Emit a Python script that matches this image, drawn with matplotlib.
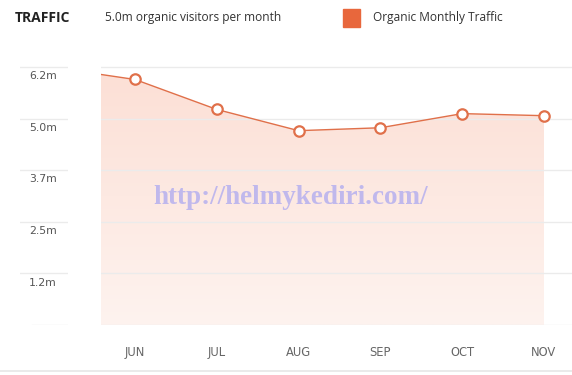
import numpy as np
import matplotlib.pyplot as plt
from matplotlib.patches import Polygon, Rectangle
from matplotlib.colors import LinearSegmentedColormap

# data ------------------------------------------------------------
months = ['MAY', 'JUN', 'JUL', 'AUG', 'SEP', 'OCT', 'NOV']
traffic = [6.19, 5.90, 5.18, 4.67, 4.74, 5.08, 5.03]   # millions
ytick_vals = [1.24, 2.48, 3.72, 4.96, 6.2]
ytick_labels = ['1.2m', '2.5m', '3.7m', '5.0m', '6.2m']

W, H = 572, 375
line_col = '#e0704a'
grid_col = '#ebebeb'

fig = plt.figure(figsize=(W / 100, H / 100), dpi=100)


def frac(x0, y0, x1, y1):
    # pixel box (top-left origin) -> figure fraction rect
    return [x0 / W, 1 - y1 / H, (x1 - x0) / W, (y1 - y0) / H]


ymax = (325 - 55) / 51.6 * 1.24
x = np.arange(len(months)) - 1  # JUN at 0

ax = fig.add_axes(frac(101, 55, 572, 325))
ax.set_xlim((101 - 135) / 81.8, (572 - 135) / 81.8)
ax.set_ylim(0, ymax)
for s in ax.spines.values():
    s.set_visible(False)

for v in [0] + ytick_vals:
    ax.axhline(v, color=grid_col, lw=1, zorder=1)

# gradient fill under the line
verts = [(x[0], 0)] + list(zip(x, traffic)) + [(x[-1], 0)]
poly = Polygon(verts, closed=True, facecolor='none', edgecolor='none')
ax.add_patch(poly)
cmap = LinearSegmentedColormap.from_list('fill', ['#fef3ef', '#fcdfd5'])
grad = np.linspace(0, 1, 256).reshape(-1, 1)
im = ax.imshow(grad, cmap=cmap, aspect='auto', origin='lower',
               extent=[x[0], x[-1], 0, max(traffic)], zorder=0)
im.set_clip_path(poly)

ax.plot(x, traffic, color=line_col, lw=1, zorder=3)
ax.plot(x[1:], traffic[1:], 'o', ms=7.5, mfc='white', mec=line_col, mew=1.6, zorder=4)

ax.set_xticks(x[1:])
ax.set_xticklabels(months[1:], fontsize=8.3, color='#666666', family='DejaVu Sans')
ax.tick_params(axis='x', length=0, pad=15)
ax.set_yticks([])

# left label column ---------------------------------------------
lax = fig.add_axes(frac(20, 55, 68, 325))
lax.set_xlim(0, 1)
lax.set_ylim(0, ymax)
lax.axis('off')
for v, lab in zip(ytick_vals, ytick_labels):
    lax.axhline(v, color=grid_col, lw=1)
    lax.text(0.48, v - 0.1, lab, ha='center', va='top', fontsize=7.8,
             color='#555555', family='DejaVu Sans')
lax.plot([12 / 48, 1], [0, 0], color=grid_col, lw=1)

# header ----------------------------------------------------------
fig.text(15 / W, 1 - 18 / H, 'TRAFFIC', fontsize=10, fontweight='bold',
         color='#222222', va='center', family='Open Sans')
fig.text(105 / W, 1 - 18 / H, '5.0m organic visitors per month', fontsize=8.6,
         color='#333333', va='center', family='Open Sans')
fig.patches.append(Rectangle((343 / W, 1 - 27 / H), 17 / W, 18 / H,
                             transform=fig.transFigure, color='#e8673c'))
fig.text(373 / W, 1 - 17 / H, 'Organic Monthly Traffic', fontsize=8.6,
         color='#333333', va='center', family='Open Sans')

# bottom border line
fig.add_artist(plt.Line2D([0, 1], [1 - 371 / H] * 2, color='#e6e6e6', lw=1.2,
                          transform=fig.transFigure))

# watermark
fig.text(291 / W, 1 - 198 / H, 'http://helmykediri.com/', fontsize=19.5,
         fontweight='bold', color='#bab3ee', ha='center', va='center',
         family='Liberation Serif', alpha=0.9)

fig.savefig('out.png', dpi=100)
